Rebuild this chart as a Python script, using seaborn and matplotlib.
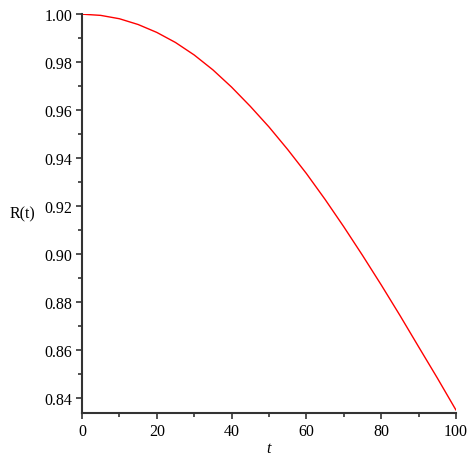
import pandas as pd
import seaborn as sns
import matplotlib.pyplot as plt
from matplotlib.ticker import MultipleLocator

# values
t = [0, 5, 10, 15, 20, 25, 30, 35, 40, 45, 50,
     55, 60, 65, 70, 75, 80, 85, 90, 95, 100]
R = [1.0000, 0.9995, 0.9981, 0.9957, 0.9924, 0.9882, 0.9830, 0.9768, 0.9696, 0.9616, 0.9530,
     0.9436, 0.9336, 0.9228, 0.9114, 0.8995, 0.8872, 0.8745, 0.8614, 0.8484, 0.8350]
xticks = [0, 20, 40, 60, 80, 100]
yticks = [0.84, 0.86, 0.88, 0.90, 0.92, 0.94, 0.96, 0.98, 1.00]

df = pd.DataFrame({'t': t, 'R': R})

sns.set_style('ticks')
plt.rcParams['font.family'] = ['Liberation Serif', 'DejaVu Serif']

fig = plt.figure(figsize=(4.74, 4.60), dpi=100)
ax = fig.add_axes([0.173, 0.10, 0.789, 0.867])
sns.lineplot(data=df, x='t', y='R', color='#ff0000', linewidth=1, ax=ax)

ax.set_xlim(0, 100)
ax.set_ylim(0.8338, 1.0)
ax.set_xticks(xticks)
ax.set_yticks(yticks)
ax.set_yticklabels(['%.2f' % v for v in yticks])
ax.xaxis.set_minor_locator(MultipleLocator(10))
ax.yaxis.set_minor_locator(MultipleLocator(0.01))
ax.tick_params(axis='both', which='major', length=4, width=1.2, labelsize=11.5,
               color='#333333', labelcolor='black', pad=3)
ax.tick_params(axis='both', which='minor', length=3, width=1.2, color='#333333')

sns.despine(ax=ax)
for s in ['left', 'bottom']:
    ax.spines[s].set_linewidth(1.5)
    ax.spines[s].set_color('#333333')

ax.set_xlabel('t', fontsize=11.5, style='italic', labelpad=1, color='black')
ax.set_ylabel('R(t)', fontsize=11.5, rotation=0, va='center', color='black')
ax.yaxis.set_label_coords(-0.16, 0.5)

fig.savefig('out.png', dpi=100)
